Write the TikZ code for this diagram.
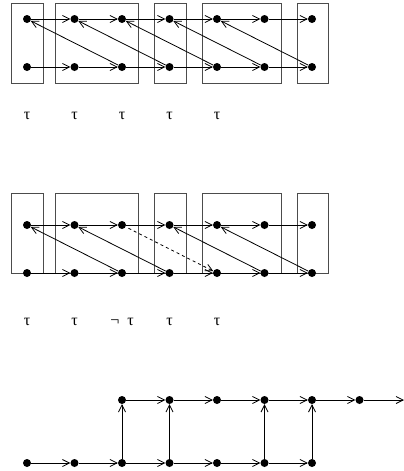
\documentclass[tikz,border=0pt]{standalone}
\usepackage{fontspec}
\usetikzlibrary{arrows.meta}
\newfontfamily\grk{Liberation Serif}
\begin{document}
\begin{tikzpicture}[x=1pt, y=-1pt,
  >={Straight Barb[length=7pt,width=7pt]},
  dot/.style={circle, fill=black, inner sep=0pt, minimum size=8pt},
  link/.style={->, line width=0.8pt},
  frame/.style={draw=black!70, line width=0.8pt},
  lab/.style={font=\grk\fontsize{16}{18}\selectfont, inner sep=0pt}]

\useasboundingbox (0,0) rectangle (404,471);

%% boxes, same for both upper panels
\foreach \oy in {0,190}{
  \draw[frame] (11,3+\oy) rectangle (43,83+\oy);
  \draw[frame] (55,3+\oy) rectangle (138,83+\oy);
  \draw[frame] (154,3+\oy) rectangle (186,83+\oy);
  \draw[frame] (202,3+\oy) rectangle (281,83+\oy);
  \draw[frame] (297,3+\oy) rectangle (328,83+\oy);
}

%% panel 1
\foreach \i in {0,...,6}{
  \node[dot] (at\i) at (27+47.5*\i, 19) {};
  \node[dot] (ab\i) at (27+47.5*\i, 67) {};
}
\foreach \i [count=\j] in {0,...,5}{
  \draw[link] (at\i) -- (at\j);
  \draw[link] (ab\i) -- (ab\j);
}
\foreach \i [count=\j from 2] in {0,...,4}
  \draw[link] (ab\j) -- (at\i);
\foreach \i in {0,...,4}
  \node[lab] (al\i) at (27+47.5*\i, 116) {τ};

%% panel 2
\foreach \i in {0,...,6}{
  \node[dot] (bt\i) at (27+47.5*\i, 225) {};
  \node[dot] (bb\i) at (27+47.5*\i, 273) {};
}
\foreach \i [count=\j] in {0,...,5}{
  \draw[link] (bt\i) -- (bt\j);
  \draw[link] (bb\i) -- (bb\j);
}
\draw[link] (bb2) -- (bt0);
\draw[link] (bb3) -- (bt1);
\draw[link, dashed, shorten <=3pt] (bt2) -- (bb4);
\draw[link] (bb5) -- (bt3);
\draw[link] (bb6) -- (bt4);
\foreach \i/\txt in {0/τ, 1/τ, 2/¬\enspace τ, 3/τ, 4/τ}
  \node[lab] (bl\i) at (27+47.5*\i, 322) {\txt};

%% panel 3
\foreach \i in {0,...,6}
  \node[dot] (cb\i) at (27+47.5*\i, 463) {};
\foreach \i in {2,...,7}
  \node[dot] (ct\i) at (27+47.5*\i, 400) {};
\coordinate (cend) at (404,400);
\foreach \i [count=\j] in {0,...,5}
  \draw[link] (cb\i) -- (cb\j);
\foreach \i [count=\j from 3] in {2,...,6}
  \draw[link] (ct\i) -- (ct\j);
\draw[link] (ct7) -- (cend);
\foreach \i in {2,3,5,6}
  \draw[link] (cb\i) -- (ct\i);

\end{tikzpicture}
\end{document}
